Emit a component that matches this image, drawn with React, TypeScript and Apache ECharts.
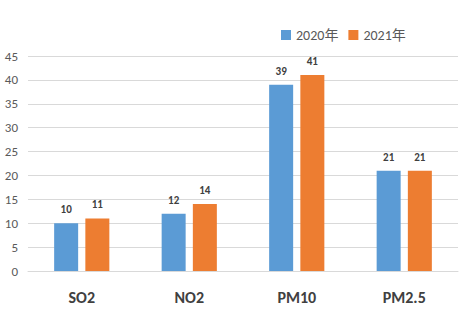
import React, { useEffect, useRef } from "react";
import * as echarts from "echarts";

const categories = ["SO2", "NO2", "PM10", "PM2.5"];
const series2020 = [10, 12, 39, 21];
const series2021 = [11, 14, 41, 21];
const seriesNames = ["2020年", "2021年"];
const colors = ["#5B9BD5", "#ED7D31"];

export default function App() {
  const ref = useRef<HTMLDivElement>(null);
  useEffect(() => {
    document.body.style.margin = "0";
    const chart = echarts.init(ref.current!, null, { renderer: "svg" });
    const font = "Calibri, Carlito, 'Open Sans', 'Noto Sans CJK SC', sans-serif";
    const labelStyle = {
      show: true,
      position: "top" as const,
      distance: 8,
      fontSize: 11,
      fontWeight: "bold" as const,
      color: "#404040",
      fontFamily: font,
    };
    chart.setOption({
      animation: false,
      textStyle: { fontFamily: font },
      legend: {
        data: seriesNames,
        left: 276,
        top: 23,
        itemWidth: 10,
        itemHeight: 10,
        itemGap: 10,
        icon: "rect",
        textStyle: { fontSize: 14, color: "#595959", fontFamily: font },
      },
      grid: { left: 28, right: 2, top: 56, bottom: 58, containLabel: false },
      xAxis: {
        type: "category",
        data: categories,
        axisLine: { show: true, lineStyle: { color: "#D9D9D9" } },
        axisTick: { show: false },
        axisLabel: {
          fontSize: 16,
          fontWeight: "bold",
          color: "#404040",
          margin: 18,
          fontFamily: font,
        },
      },
      yAxis: {
        type: "value",
        min: 0,
        max: 45,
        interval: 5,
        axisLine: { show: false },
        axisTick: { show: false },
        splitLine: { lineStyle: { color: "#D9D9D9" } },
        axisLabel: { fontSize: 13, color: "#595959", margin: 10, fontFamily: font },
      },
      series: [
        {
          name: seriesNames[0],
          type: "bar",
          data: series2020,
          barWidth: 24,
          barGap: "30%",
          itemStyle: { color: colors[0] },
          label: labelStyle,
        },
        {
          name: seriesNames[1],
          type: "bar",
          data: series2021,
          barWidth: 24,
          itemStyle: { color: colors[1] },
          label: labelStyle,
        },
      ],
    });
    return () => chart.dispose();
  }, []);
  return <div ref={ref} style={{ width: 460, height: 329 }} />;
}
